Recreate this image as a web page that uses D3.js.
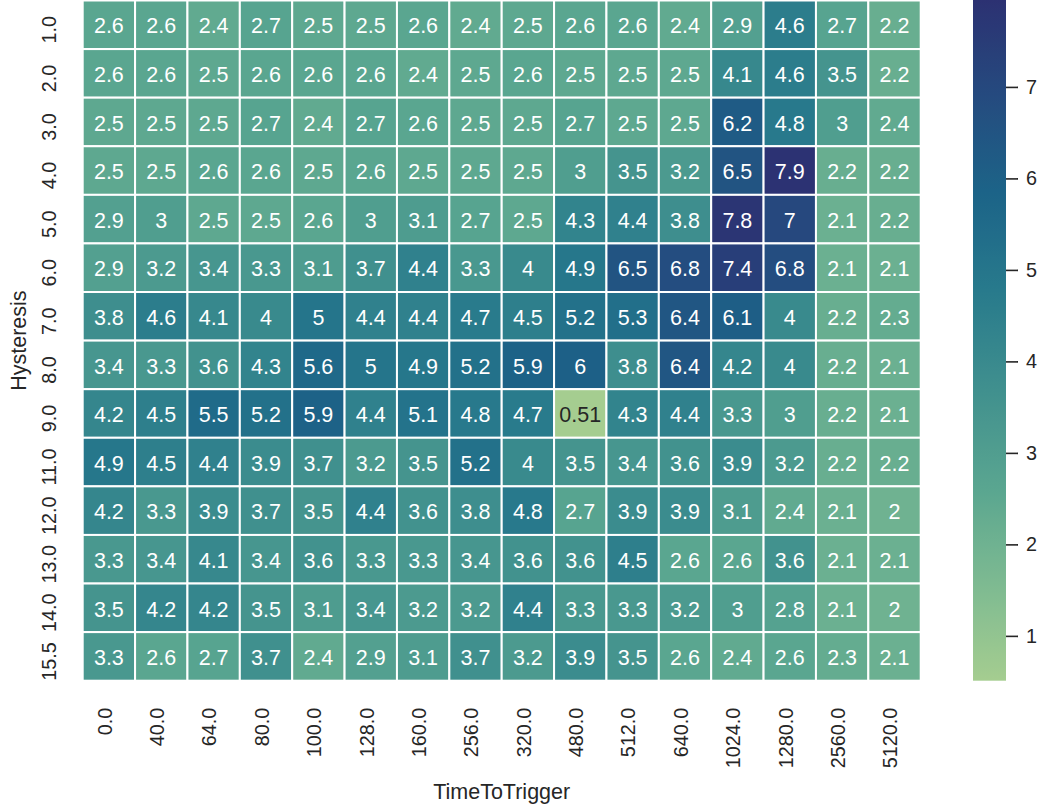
<!DOCTYPE html>
<html>
<head>
<meta charset="utf-8">
<script src="https://cdnjs.cloudflare.com/ajax/libs/d3/7.8.5/d3.min.js"></script>
<style>
  body { margin: 0; background: #fff; }
  svg text { font-family: "Liberation Sans", Arial, sans-serif; fill: #262626; }
</style>
</head>
<body>
<svg class="chart"></svg>
<script>
// row / column labels as printed on the axes
let hysteresis = ['1.0', '2.0', '3.0', '4.0', '5.0', '6.0', '7.0', '8.0', '9.0', '11.0', '12.0', '13.0', '14.0', '15.5'];
let timeToTrigger = ['0.0', '40.0', '64.0', '80.0', '100.0', '128.0', '160.0', '256.0', '320.0', '480.0', '512.0', '640.0', '1024.0', '1280.0', '2560.0', '5120.0'];

// one array per hysteresis row, values
let row1_0  = [2.6, 2.6, 2.4, 2.7, 2.5, 2.5, 2.6, 2.4, 2.5, 2.6, 2.6, 2.4, 2.9, 4.6, 2.7, 2.2];
let row2_0  = [2.6, 2.6, 2.5, 2.6, 2.6, 2.6, 2.4, 2.5, 2.6, 2.5, 2.5, 2.5, 4.1, 4.6, 3.5, 2.2];
let row3_0  = [2.5, 2.5, 2.5, 2.7, 2.4, 2.7, 2.6, 2.5, 2.5, 2.7, 2.5, 2.5, 6.2, 4.8, 3, 2.4];
let row4_0  = [2.5, 2.5, 2.6, 2.6, 2.5, 2.6, 2.5, 2.5, 2.5, 3, 3.5, 3.2, 6.5, 7.9, 2.2, 2.2];
let row5_0  = [2.9, 3, 2.5, 2.5, 2.6, 3, 3.1, 2.7, 2.5, 4.3, 4.4, 3.8, 7.8, 7, 2.1, 2.2];
let row6_0  = [2.9, 3.2, 3.4, 3.3, 3.1, 3.7, 4.4, 3.3, 4, 4.9, 6.5, 6.8, 7.4, 6.8, 2.1, 2.1];
let row7_0  = [3.8, 4.6, 4.1, 4, 5, 4.4, 4.4, 4.7, 4.5, 5.2, 5.3, 6.4, 6.1, 4, 2.2, 2.3];
let row8_0  = [3.4, 3.3, 3.6, 4.3, 5.6, 5, 4.9, 5.2, 5.9, 6, 3.8, 6.4, 4.2, 4, 2.2, 2.1];
let row9_0  = [4.2, 4.5, 5.5, 5.2, 5.9, 4.4, 5.1, 4.8, 4.7, 0.51, 4.3, 4.4, 3.3, 3, 2.2, 2.1];
let row11_0 = [4.9, 4.5, 4.4, 3.9, 3.7, 3.2, 3.5, 5.2, 4, 3.5, 3.4, 3.6, 3.9, 3.2, 2.2, 2.2];
let row12_0 = [4.2, 3.3, 3.9, 3.7, 3.5, 4.4, 3.6, 3.8, 4.8, 2.7, 3.9, 3.9, 3.1, 2.4, 2.1, 2];
let row13_0 = [3.3, 3.4, 4.1, 3.4, 3.6, 3.3, 3.3, 3.4, 3.6, 3.6, 4.5, 2.6, 2.6, 3.6, 2.1, 2.1];
let row14_0 = [3.5, 4.2, 4.2, 3.5, 3.1, 3.4, 3.2, 3.2, 4.4, 3.3, 3.3, 3.2, 3, 2.8, 2.1, 2];
let row15_5 = [3.3, 2.6, 2.7, 3.7, 2.4, 2.9, 3.1, 3.7, 3.2, 3.9, 3.5, 2.6, 2.4, 2.6, 2.3, 2.1];

let rows = [row1_0, row2_0, row3_0, row4_0, row5_0, row6_0, row7_0, row8_0, row9_0,
            row11_0, row12_0, row13_0, row14_0, row15_5];

let cbarTicks = [1, 2, 3, 4, 5, 6, 7];
let vmin = 0.51, vmax = 7.95;

// seaborn "crest" stops
let crest = ['#a5cd90', '#7dba91', '#59a590', '#40908e', '#287a8c', '#1c6488', '#254b7f', '#2c3172'];

let W = 1046, H = 809;
let heat = { left: 82.7, top: 0.5, right: 920.7, bottom: 680.7 };
let cbar = { left: 973, right: 1006 };

let svg = d3.select('.chart').attr('width', W).attr('height', H);

let x = d3.scaleBand().domain(timeToTrigger).range([heat.left, heat.right]);
let y = d3.scaleBand().domain(hysteresis).range([heat.top, heat.bottom]);

let color = d3.scaleLinear()
    .domain(crest.map((c, i) => vmin + (vmax - vmin) * i / (crest.length - 1)))
    .range(crest)
    .interpolate(d3.interpolateRgb)
    .clamp(true);

let fmt = d3.format('.2~g');

function lum(c) {
  let rgb = d3.rgb(c);
  let f = v => { v /= 255; return v <= 0.03928 ? v / 12.92 : Math.pow((v + 0.055) / 1.055, 2.4); };
  return 0.2126 * f(rgb.r) + 0.7152 * f(rgb.g) + 0.0722 * f(rgb.b);
}

let cells = [];
rows.forEach((r, i) => r.forEach((v, j) => cells.push({ row: hysteresis[i], col: timeToTrigger[j], v: v })));

let cell = svg.append('g').selectAll('g')
    .data(cells)
  .enter().append('g')
    .attr('transform', d => 'translate(' + x(d.col) + ',' + y(d.row) + ')');

cell.append('rect')
    .attr('width', x.bandwidth())
    .attr('height', y.bandwidth())
    .attr('fill', d => color(d.v))
    .attr('stroke', '#fff')
    .attr('stroke-width', 2);

cell.append('text')
    .attr('x', x.bandwidth() / 2)
    .attr('y', y.bandwidth() / 2 + 8.7)
    .attr('text-anchor', 'middle')
    .style('font-size', '21.5px')
    .style('fill', d => lum(color(d.v)) > 0.408 ? '#262626' : '#fff')
    .text(d => fmt(d.v));

// x axis
let xAxis = svg.append('g')
    .attr('transform', 'translate(0,' + heat.bottom + ')')
    .call(d3.axisBottom(x).tickSize(0));
xAxis.select('.domain').remove();
xAxis.selectAll('text')
    .attr('x', null).attr('y', null).attr('dy', null)
    .attr('text-anchor', 'end')
    .attr('transform', 'translate(2.8,27) rotate(-90)')
    .style('font-size', '19.8px')
    .style('font-family', null)
    .attr('fill', null);
xAxis.attr('font-family', null).attr('font-size', null);

// y axis
let yAxis = svg.append('g')
    .attr('transform', 'translate(' + heat.left + ',0)')
    .call(d3.axisLeft(y).tickSize(0));
yAxis.select('.domain').remove();
yAxis.selectAll('text')
    .attr('x', null).attr('y', null).attr('dy', null)
    .attr('text-anchor', 'middle')
    .attr('transform', 'translate(' + (56 - heat.left) + ',5) rotate(-90)')
    .style('font-size', '19.8px')
    .attr('fill', null);
yAxis.attr('font-family', null).attr('font-size', null);

// axis titles
svg.append('text')
    .attr('transform', 'translate(26,' + (heat.top + heat.bottom) / 2 + ') rotate(-90)')
    .attr('text-anchor', 'middle')
    .style('font-size', '21.5px')
    .text('Hysteresis');

svg.append('text')
    .attr('x', (heat.left + heat.right) / 2)
    .attr('y', 798.5)
    .attr('text-anchor', 'middle')
    .style('font-size', '21.5px')
    .text('TimeToTrigger');

// colorbar
let cy = d3.scaleLinear().domain([vmin, vmax]).range([heat.bottom, 0]);

let grad = svg.append('defs').append('linearGradient')
    .attr('id', 'crest')
    .attr('x1', 0).attr('y1', 1).attr('x2', 0).attr('y2', 0);
grad.selectAll('stop')
    .data(d3.range(0, 1.0001, 0.02))
  .enter().append('stop')
    .attr('offset', t => t)
    .attr('stop-color', t => color(vmin + t * (vmax - vmin)));

svg.append('rect')
    .attr('x', cbar.left)
    .attr('y', 0)
    .attr('width', cbar.right - cbar.left)
    .attr('height', heat.bottom)
    .attr('fill', 'url(#crest)');

let cAxis = svg.append('g')
    .attr('transform', 'translate(' + cbar.right + ',0)')
    .call(d3.axisRight(cy).tickValues(cbarTicks).tickSize(12).tickPadding(8).tickFormat(d3.format('d')));
cAxis.select('.domain').remove();
cAxis.selectAll('line').attr('stroke', '#262626').attr('stroke-width', 1.6);
cAxis.selectAll('text')
    .attr('fill', null)
    .style('font-size', '19.8px');
cAxis.attr('font-family', null).attr('font-size', null);
</script>
</body>
</html>
